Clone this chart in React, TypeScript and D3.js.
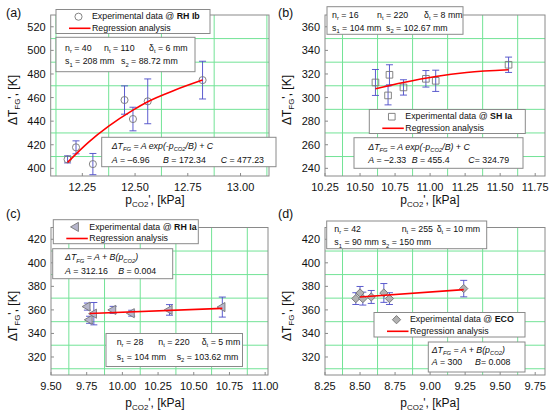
import React from "react";
import * as d3 from "d3";

const FONT = "Arial, 'Liberation Sans', Helvetica, sans-serif";

// (a) RH Ib
const aPressure = [12.18, 12.22, 12.3, 12.45, 12.49, 12.56, 12.82];
const aDeltaT = [407.6, 417.8, 403.6, 457.9, 441.8, 456.8, 474.8];
const aError = [3, 5.5, 9, 12, 10, 19, 16];
const aFitPressure = [12.18, 12.28, 12.375, 12.49, 12.56, 12.69, 12.82];
const aFitDeltaT = [405.1, 422.3, 435.8, 449.4, 456.5, 466.4, 474.8];
const aXTicks = [12.25, 12.5, 12.75, 13.0];
const aYTicks = [400, 420, 440, 460, 480, 500, 520];

// (b) SH Ia
const bPressure = [10.61, 10.7, 10.71, 10.81, 10.97, 11.04, 11.56];
const bDeltaT = [312.8, 301.8, 319.3, 308.6, 315.9, 314.2, 327.8];
const bError = [11, 8, 8.5, 6.5, 7, 9, 6.5];
const bFitPressure = [10.61, 10.81, 11.04, 11.26, 11.56];
const bFitDeltaT = [307.4, 312.8, 317.9, 321.3, 323.6];
const bXTicks = [10.25, 10.5, 10.75, 11.0, 11.25, 11.5, 11.75];
const bYTicks = [240, 260, 280, 300, 320, 340, 360];

// (c) RH Ia
const cPressure = [9.755, 9.77, 9.8, 9.935, 10.065, 10.33, 10.7];
const cDeltaT = [362.8, 351.6, 356.8, 360.0, 357.2, 360.0, 362.4];
const cError = [3, 3, 9.5, 3, 2.5, 4.5, 8.5];
const cFitPressure = [9.77, 10.7];
const cFitDeltaT = [357.0, 361.3];
const cXTicks = [9.5, 9.75, 10.0, 10.25, 10.5, 10.75, 11.0];
const cYTicks = [320, 340, 360, 380, 400, 420];

// (d) ECO
const dPressure = [8.47, 8.5, 8.52, 8.58, 8.67, 8.71, 9.24];
const dDeltaT = [369.6, 374.4, 369.6, 371.0, 374.4, 369.6, 378.1];
const dError = [5, 5.5, 5.5, 5.5, 8, 5, 7];
const dFitPressure = [8.5, 9.24];
const dFitDeltaT = [371.0, 377.2];
const dXTicks = [8.25, 8.5, 8.75, 9.0, 9.25, 9.5, 9.75];
const dYTicks = [320, 340, 360, 380, 400, 420];

const GRID = "#72e396";
const FRAME = "#8a8a8a";
const BAR = "#4b4bc8";
const TXT = 8.8;

type Marker = "circle" | "square" | "triangle" | "diamond";

const markerShape: Record<Marker, string> = {
  circle: d3.symbol(d3.symbolCircle, 40)() as string,
  square: d3.symbol(d3.symbolSquare, 44)() as string,
  triangle: d3.symbol(d3.symbolTriangle, 36)() as string,
  diamond: d3.symbol(d3.symbolSquare, 34)() as string,
};
const markerRotate: Record<Marker, number> = { circle: 0, square: 0, triangle: -90, diamond: 45 };
const markerFill: Record<Marker, string> = {
  circle: "none",
  square: "none",
  triangle: "#b6b6cc",
  diamond: "#b2b2b2",
};

function Symbol({ x, y, m }: { x: number; y: number; m: Marker }) {
  return (
    <path
      d={markerShape[m]}
      transform={`translate(${x},${y}) rotate(${markerRotate[m]})`}
      fill={markerFill[m]}
      stroke="#777"
      strokeWidth={0.9}
    />
  );
}

// tiny markup: _{..} subscript, *..* italic, #..# bold
type Seg = { t: string; sub: boolean; it: boolean; b: boolean };
function parse(src: string): Seg[] {
  const segs: Seg[] = [];
  let it = false, b = false, buf = "", i = 0;
  const flush = () => {
    if (buf) segs.push({ t: buf, sub: false, it, b });
    buf = "";
  };
  while (i < src.length) {
    const ch = src[i];
    if (ch === "*") { flush(); it = !it; i++; }
    else if (ch === "#") { flush(); b = !b; i++; }
    else if (ch === "_" && src[i + 1] === "{") {
      flush();
      const end = src.indexOf("}", i);
      segs.push({ t: src.slice(i + 2, end), sub: true, it, b });
      i = end + 1;
    } else { buf += ch; i++; }
  }
  flush();
  return segs;
}

function Rich({ x, y, src, size = TXT, anchor = "start", transform }: {
  x: number; y: number; src: string; size?: number; anchor?: string; transform?: string;
}) {
  const segs = parse(src);
  let down = false;
  const shift = size * 0.28;
  return (
    <text x={x} y={y} fontFamily={FONT} fontSize={size} textAnchor={anchor} transform={transform}
      fill="#111" style={{ whiteSpace: "pre" }}>
      {segs.map((s, k) => {
        let dy = 0;
        if (s.sub && !down) { dy = shift; down = true; }
        else if (!s.sub && down) { dy = -shift; down = false; }
        return (
          <tspan key={k} dy={dy || undefined} fontSize={s.sub ? size * 0.66 : size}
            fontStyle={s.it ? "italic" : undefined} fontWeight={s.b ? "bold" : undefined}>
            {s.t}
          </tspan>
        );
      })}
    </text>
  );
}

function TextBox({ x, y, w, h, lines }: { x: number; y: number; w: number; h: number; lines: [number, number, string][] }) {
  return (
    <g>
      <rect x={x} y={y} width={w} height={h} fill="#fff" stroke={FRAME} strokeWidth={1} />
      {lines.map(([dx, dy, s], i) => <Rich key={i} x={x + dx} y={y + dy} src={s} />)}
    </g>
  );
}

function Legend({ x, y, w, h, m, site }: { x: number; y: number; w: number; h: number; m: Marker; site: string }) {
  return (
    <g>
      <rect x={x} y={y} width={w} height={h} fill="#fff" stroke={FRAME} strokeWidth={1} />
      <Symbol x={x + 22.5} y={y + 7.2} m={m} />
      <Rich x={x + 36} y={y + 9.8} src={`Experimental data @ #${site}#`} />
      <line x1={x + 13} x2={x + 34.5} y1={y + 18.8} y2={y + 18.8} stroke="#ff0000" strokeWidth={1.6} />
      <Rich x={x + 36} y={y + 21.6} src="Regression analysis" />
    </g>
  );
}

function midGrid(ticks: number[], dom: [number, number]) {
  const step = ticks[1] - ticks[0];
  const out: number[] = [];
  for (let v = ticks[0] - step / 2; v <= dom[1] + 1e-9; v += step) {
    if (v > dom[0] + 1e-9 && v < dom[1] - 1e-9) out.push(v);
  }
  return out;
}

interface PanelProps {
  box: [number, number, number, number]; // left, right, top, bottom
  xDomain: [number, number];
  yDomain: [number, number];
  xTicks: number[];
  yTicks: number[];
  pressure: number[];
  deltaT: number[];
  error: number[];
  fitPressure: number[];
  fitDeltaT: number[];
  m: Marker;
  tag: string;
  tagPos: [number, number];
  yTitlePos: [number, number];
  xTitlePos: [number, number];
  children?: React.ReactNode;
}

function Panel(p: PanelProps) {
  const [l, r, t, b] = p.box;
  const x = d3.scaleLinear().domain(p.xDomain).range([l, r]);
  const y = d3.scaleLinear().domain(p.yDomain).range([b, t]);
  const fit = d3.line<number>()
    .x((_, i) => x(p.fitPressure[i]))
    .y((v) => y(v))
    .curve(d3.curveMonotoneX);
  const fx = d3.format(".2f");
  return (
    <g>
      {midGrid(p.xTicks, p.xDomain).map((v) => (
        <line key={"gx" + v} x1={x(v)} x2={x(v)} y1={t} y2={b} stroke={GRID} strokeWidth={1} />
      ))}
      {midGrid(p.yTicks, p.yDomain).map((v) => (
        <line key={"gy" + v} x1={l} x2={r} y1={y(v)} y2={y(v)} stroke={GRID} strokeWidth={1} />
      ))}
      <rect x={l} y={t} width={r - l} height={b - t} fill="none" stroke={FRAME} strokeWidth={1} />
      {p.xTicks.map((v) => (
        <g key={"tx" + v}>
          <line x1={x(v)} x2={x(v)} y1={b} y2={b - 3} stroke={FRAME} />
          <text x={x(v)} y={b + 14.5} textAnchor="middle" fontFamily={FONT} fontSize={11} fill="#111">{fx(v)}</text>
        </g>
      ))}
      {p.yTicks.map((v) => (
        <g key={"ty" + v}>
          <line x1={l} x2={l + 3} y1={y(v)} y2={y(v)} stroke={FRAME} />
          <text x={l - 5} y={y(v)} dy="0.36em" textAnchor="end" fontFamily={FONT} fontSize={11} fill="#111">{v}</text>
        </g>
      ))}
      {p.pressure.map((v, i) => {
        const cx = x(v);
        const y1 = y(p.deltaT[i] - p.error[i]);
        const y2 = y(p.deltaT[i] + p.error[i]);
        return (
          <g key={"e" + i} stroke={BAR} strokeWidth={0.9}>
            <line x1={cx} x2={cx} y1={y1} y2={y2} />
            <line x1={cx - 3.5} x2={cx + 3.5} y1={y1} y2={y1} />
            <line x1={cx - 3.5} x2={cx + 3.5} y1={y2} y2={y2} />
          </g>
        );
      })}
      {p.pressure.map((v, i) => <Symbol key={"m" + i} x={x(v)} y={y(p.deltaT[i])} m={p.m} />)}
      <path d={fit(p.fitDeltaT) ?? ""} fill="none" stroke="#ff0000" strokeWidth={1.6} />
      <text x={p.tagPos[0]} y={p.tagPos[1]} fontFamily={FONT} fontSize={12.5} fill="#111">{p.tag}</text>
      <Rich x={0} y={0} size={12} anchor="middle" src="ΔT_{FG}', [K]"
        transform={`translate(${p.yTitlePos[0]},${p.yTitlePos[1]}) rotate(-90)`} />
      <Rich x={p.xTitlePos[0]} y={p.xTitlePos[1]} size={12} anchor="middle" src="p_{CO2}', [kPa]" />
      {p.children}
    </g>
  );
}

export default function App() {
  return (
    <div style={{ position: "absolute", left: 0, top: 0 }}>
      <svg width={550} height={417} viewBox="0 0 550 417" style={{ display: "block", background: "#fff" }}>
        <Panel box={[50.7, 269, 15, 176]} xDomain={[12.1, 13.135]} yDomain={[393.5, 530]}
          xTicks={aXTicks} yTicks={aYTicks} pressure={aPressure} deltaT={aDeltaT} error={aError}
          fitPressure={aFitPressure} fitDeltaT={aFitDeltaT} m="circle" tag="(a)" tagPos={[6, 17]}
          yTitlePos={[17, 100]} xTitlePos={[155, 204]}>
          <Legend x={56} y={9.5} w={154} h={24} m="circle" site="RH Ib" />
          <TextBox x={56} y={37.3} w={139} h={34.4} lines={[
            [9, 13.4, "n_{r} = 40"], [48, 13.4, "n_{t} = 110"], [93, 13.4, "δ_{t} = 6 mm"],
            [9, 27, "s_{1} = 208 mm"], [65, 27, "s_{2} = 88.72 mm"],
          ]} />
          <TextBox x={101.7} y={137.3} w={174.3} h={29.4} lines={[
            [10, 11.7, "*ΔT_{FG} = A exp(-p_{CO2}/B) + C*"],
            [10, 25.6, "*A* = –6.96"], [61.3, 25.6, "*B* = 172.34"], [119, 25.6, "*C* = 477.23"],
          ]} />
        </Panel>

        <Panel box={[325, 545, 15, 176]} xDomain={[10.25, 11.82]} yDomain={[233.5, 370]}
          xTicks={bXTicks} yTicks={bYTicks} pressure={bPressure} deltaT={bDeltaT} error={bError}
          fitPressure={bFitPressure} fitDeltaT={bFitDeltaT} m="square" tag="(b)" tagPos={[278, 17]}
          yTitlePos={[291, 100]} xTitlePos={[430, 204]}>
          <TextBox x={327} y={6.7} w={136} h={27.6} lines={[
            [5, 11, "n_{r} = 16"], [50, 11, "n_{t} = 220"], [97, 11, "δ_{t} = 8 mm"],
            [5, 24.3, "s_{1} = 104 mm"], [59, 24.3, "s_{2} = 102.67 mm"],
          ]} />
          <Legend x={369.3} y={109.5} w={156} h={24} m="square" site="SH Ia" />
          <TextBox x={354} y={137.7} w={169} h={30.6} lines={[
            [14.3, 12.3, "*ΔT_{FG} = A exp(-p_{CO2}/B) + C*"],
            [14.3, 25.6, "*A* = –2.33"], [57.7, 25.6, "*B* = 455.4"], [114.3, 25.6, "*C*= 324.79"],
          ]} />
        </Panel>

        <Panel box={[51, 268, 227.5, 375]} xDomain={[9.5, 11.02]} yDomain={[304.7, 430]}
          xTicks={cXTicks} yTicks={cYTicks} pressure={cPressure} deltaT={cDeltaT} error={cError}
          fitPressure={cFitPressure} fitDeltaT={cFitDeltaT} m="triangle" tag="(c)" tagPos={[6, 218]}
          yTitlePos={[17, 316]} xTitlePos={[155, 407]}>
          <Legend x={53.3} y={219.7} w={145} h={24} m="triangle" site="RH Ia" />
          <TextBox x={52.7} y={248.7} w={120} h={30} lines={[
            [12.3, 11.6, "*ΔT_{FG} = A + B(p_{CO2})*"],
            [12.3, 25, "*A* = 312.16"], [65.6, 25, "*B* = 0.004"],
          ]} />
          <TextBox x={106} y={333.5} w={136.5} h={33} lines={[
            [10.7, 11.5, "n_{r} = 28"], [52.3, 11.5, "n_{t} = 220"], [95.7, 11.5, "δ_{t} = 5 mm"],
            [10.7, 26.5, "s_{1} = 104 mm"], [70.7, 26.5, "s_{2} = 103.62 mm"],
          ]} />
        </Panel>

        <Panel box={[325, 545, 227.5, 375]} xDomain={[8.25, 9.82]} yDomain={[304.7, 430]}
          xTicks={dXTicks} yTicks={dYTicks} pressure={dPressure} deltaT={dDeltaT} error={dError}
          fitPressure={dFitPressure} fitDeltaT={dFitDeltaT} m="diamond" tag="(d)" tagPos={[278, 218]}
          yTitlePos={[291, 316]} xTitlePos={[430, 407]}>
          <TextBox x={326.7} y={221} w={160} h={27.7} lines={[
            [7.6, 11, "n_{r} = 42"], [75, 11, "n_{t} = 255"], [110, 11, "δ_{t} = 10 mm"],
            [7.6, 24.3, "s_{1} = 90 mm"], [55, 24.3, "s_{2} = 150 mm"],
          ]} />
          <Legend x={374} y={312.5} w={151} h={24.5} m="diamond" site="ECO" />
          <TextBox x={428.3} y={342} w={96.7} h={30} lines={[
            [3.4, 11, "*ΔT_{FG} = A + B(p_{CO2})*"],
            [3.4, 23.3, "*A* = 300"], [46.7, 23.3, "*B*= 0.008"],
          ]} />
        </Panel>
      </svg>
    </div>
  );
}
